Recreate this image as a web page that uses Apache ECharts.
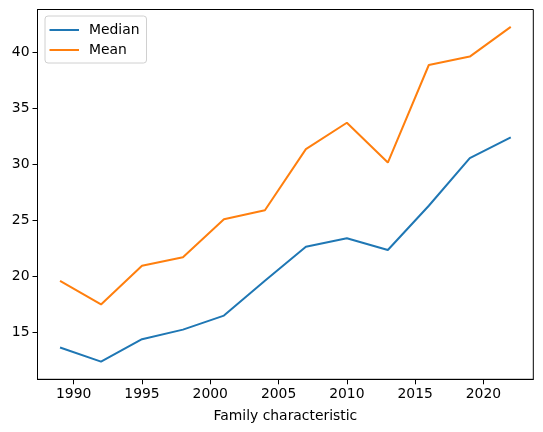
<!DOCTYPE html>
<html>
<head>
<meta charset="utf-8">
<script src="https://cdn.jsdelivr.net/npm/echarts@6/dist/echarts.min.js"></script>
<style>
  html, body { margin: 0; padding: 0; background: #fff; }
  #chart { width: 543px; height: 432px; }
</style>
</head>
<body>
<div id="chart"></div>
<script>
// survey years and values
const years = [1989, 1992, 1995, 1998, 2001, 2004, 2007, 2010, 2013, 2016, 2019, 2022];
const median = [13.65, 12.4, 14.4, 15.25, 16.5, 19.6, 22.65, 23.4, 22.35, 26.3, 30.55, 32.4];
const mean = [19.6, 17.5, 20.95, 21.7, 25.1, 25.9, 31.35, 33.7, 30.15, 38.85, 39.6, 42.25];
const xTicks = [1990, 1995, 2000, 2005, 2010, 2015, 2020];
const yTicks = [15, 20, 25, 30, 35, 40];

const font = 'DejaVu Sans';
const chart = echarts.init(document.getElementById('chart'));

const axisBase = {
  type: 'value',
  axisLine: { show: true, onZero: false, lineStyle: { color: '#000', width: 1 } },
  axisTick: { show: true, length: 5, lineStyle: { color: '#000', width: 1 } },
  axisLabel: { color: '#000', fontFamily: font, fontSize: 13.9, margin: 8, formatter: v => String(v) },
  splitLine: { show: false }
};

chart.setOption({
  animation: false,
  backgroundColor: '#fff',
  grid: {
    left: 37.5, right: 9.7, top: 9.5, bottom: 52.7,
    show: true, borderColor: '#000', borderWidth: 1, containLabel: false
  },
  legend: {
    orient: 'vertical',
    left: 45, top: 16,
    padding: [7, 7, 6, 4.5],
    itemGap: 6,
    itemWidth: 29.5, itemHeight: 2,
    icon: 'rect',
    borderColor: '#d0d0d0', borderWidth: 1, borderRadius: 3,
    textStyle: { color: '#000', fontFamily: font, fontSize: 13.9, padding: [0, 0, 0, 5] },
    data: ['Median', 'Mean']
  },
  xAxis: {
    ...axisBase,
    min: 1987.35, max: 2023.65,
    axisTick: { ...axisBase.axisTick, customValues: xTicks },
    axisLabel: { ...axisBase.axisLabel, customValues: xTicks },
    name: 'Family characteristic',
    nameLocation: 'middle',
    nameGap: 30,
    nameTextStyle: { color: '#000', fontFamily: font, fontSize: 13.9 }
  },
  yAxis: {
    ...axisBase,
    min: 10.82, max: 43.8,
    axisTick: { ...axisBase.axisTick, customValues: yTicks },
    axisLabel: { ...axisBase.axisLabel, customValues: yTicks }
  },
  series: [
    {
      name: 'Median', type: 'line', showSymbol: false,
      color: '#1f77b4', lineStyle: { width: 2 },
      data: years.map((y, i) => [y, median[i]])
    },
    {
      name: 'Mean', type: 'line', showSymbol: false,
      color: '#ff7f0e', lineStyle: { width: 2 },
      data: years.map((y, i) => [y, mean[i]])
    }
  ]
});
</script>
</body>
</html>
